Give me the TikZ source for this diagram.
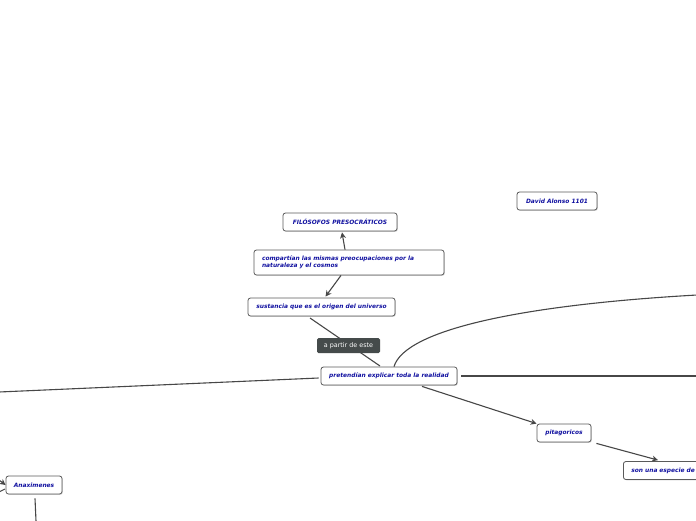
\documentclass[tikz,border=0pt]{standalone}
\usepackage{fontspec}
\setmainfont{DejaVu Sans}
\usetikzlibrary{arrows.meta,shadows,calc}
\definecolor{txtblue}{HTML}{1010A0}
\definecolor{bordergray}{HTML}{5A5A5A}
\definecolor{linegray}{HTML}{474747}
\definecolor{labelbg}{HTML}{454B4B}
\tikzset{
  topic/.style={draw=bordergray, line width=0.8pt, rounded corners=2.5pt, fill=white,
    drop shadow={shadow xshift=0.8pt, shadow yshift=-0.8pt, opacity=0.35},
    font=\fontsize{5.9}{7}\selectfont\bfseries\itshape, text=txtblue,
    inner xsep=6pt, inner ysep=3.5pt, minimum height=18pt},
  rel/.style={fill=labelbg, rounded corners=1.5pt, text=white,
    font=\fontsize{6.4}{7.5}\selectfont, inner xsep=4pt, inner ysep=2.5pt, minimum height=15pt, minimum width=63pt},
  conn/.style={draw=linegray, line width=1.1pt},
  arr/.style={conn, -{Stealth[length=6pt,width=6pt]}}
}
\begin{document}
\begin{tikzpicture}[x=1pt,y=-1pt]
\useasboundingbox (0,0) rectangle (696,520);
\clip (0,0) rectangle (696,520);
% coordinates for free ends
\coordinate (s1) at (310,318);
\coordinate (p1) at (380,366);
\coordinate (eR1) at (697,295);
\coordinate (eR2) at (697,376);
\coordinate (eL) at (-1,392);
\coordinate (aIn) at (-1,480);
\coordinate (aOut) at (-1,492);
\coordinate (aOut2) at (5,489);
\coordinate (aDown) at (36,521);
\draw[conn] (s1) -- (p1);
% nodes
\node[topic, minimum width=114pt] (filo) at (340,222) {FILÓSOFOS PRESOCRÁTICOS};
\node[topic, minimum width=190pt, minimum height=25pt, inner xsep=8pt, text width=174pt, align=left] (comp) at (349,262.5) {compartían las mismas preocupaciones por la\\naturaleza y el cosmos};
\node[topic, minimum width=147pt] (sust) at (321.5,307) {sustancia que es el origen del universo};
\node[topic, minimum width=136pt] (pret) at (389,376) {pretendían explicar toda la realidad};
\node[topic, minimum width=80pt] (david) at (557,201) {David Alonso 1101};
\node[topic, minimum width=54pt] (pita) at (564,433) {pitagoricos};
\node[topic, minimum width=100pt, anchor=west, inner xsep=8pt, text width=84pt, align=left] (son) at (623,470.5) {son una especie de};
\node[topic, minimum width=56pt] (anax) at (34,485) {Anaximenes};
\node[rel] (apartir) at (348.5,345.5) {a partir de este};
% connectors
\draw[arr] ($(comp.north)+(-4,0)$) -- ($(filo.south)+(2,1)$);
\draw[arr] ($(comp.south)+(-8,0)$) -- ($(sust.north)+(4,-1)$);
\draw[conn] ($(pret.north)+(5,0)$) .. controls (405,330) and (520,305) .. (eR1);
\draw[conn] ($(pret.east)+(4,0)$) -- (eR2);
\draw[conn] ($(pret.west)+(-2,2)$) -- (eL);
\draw[arr] ($(pret.south)+(33,1)$) -- (pita.north west);
\draw[arr] ($(pita.south east)+(5,1)$) -- ($(son.north west)+(35,-1)$);
\draw[arr] (aIn) -- (anax.west);
\draw[conn] (aOut) -- (aOut2);
\draw[conn] ($(anax.south)+(1,4)$) -- (aDown);
\end{tikzpicture}
\end{document}
